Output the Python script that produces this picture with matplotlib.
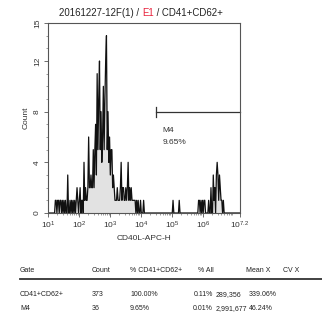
import numpy as np
import matplotlib
matplotlib.use("Agg")
import matplotlib.pyplot as plt
from matplotlib.ticker import FixedLocator, FixedFormatter, LogLocator, NullFormatter, MultipleLocator

plt.rcParams["font.family"] = ["Liberation Sans", "DejaVu Sans"]
plt.rcParams["mathtext.default"] = "regular"

# Histogram channels: 0.025-decade wide, spanning 10^1 .. 10^7.2
LOG_MIN, LOG_MAX, CH_WIDTH = 1.0, 7.2, 0.025
n_channels = int(round((LOG_MAX - LOG_MIN) / CH_WIDTH))

# Event counts per channel (channel index -> count), grouped by region
left_tail = {9: 1, 10: 1, 12: 1, 13: 1, 15: 1, 16: 1, 18: 1, 20: 1, 22: 1, 25: 3,
             28: 1, 30: 1, 32: 1, 34: 1, 36: 1, 37: 2, 38: 1, 40: 1, 41: 2,
             43: 1, 44: 1, 46: 4, 47: 1, 48: 2, 49: 1, 50: 1, 51: 2, 52: 6,
             53: 2, 54: 2, 55: 3, 56: 2}
main_peak = {57: 2, 58: 5, 59: 2, 60: 5, 61: 7, 62: 3, 63: 11, 64: 5, 65: 9,
             66: 12, 67: 5, 68: 8, 69: 4, 70: 6, 71: 10, 72: 5, 73: 9,
             74: 12, 75: 14, 76: 5, 77: 8, 78: 4, 79: 6, 80: 3, 81: 5,
             82: 5, 83: 2, 84: 3}
right_tail = {85: 2, 86: 1, 87: 1, 88: 1, 89: 2, 90: 1, 91: 1, 92: 1, 93: 2,
              94: 4, 95: 1, 96: 2, 97: 2, 98: 1, 99: 1, 100: 2, 101: 1,
              102: 2, 103: 4, 104: 1, 105: 2, 106: 1, 107: 2, 108: 1, 109: 1,
              110: 1, 111: 1, 112: 1, 114: 1, 116: 1, 119: 1, 123: 1}
high_cluster = {161: 1, 169: 1, 194: 1, 195: 1, 197: 1, 199: 1, 201: 1, 202: 1,
                207: 1, 210: 2, 213: 3, 214: 1, 215: 2, 217: 3, 218: 4, 219: 3,
                220: 1, 221: 3, 222: 2, 223: 1, 224: 1, 226: 1}

# Marker gate M4
gate_name = "M4"
gate_log_start = 4.49
gate_level = 8
gate_pct = "9.65%"

title_parts = [("20161227-12F(1) / ", "#222222"), ("E1", "#e8203a"), (" / CD41+CD62+", "#222222")]
x_label = "CD40L-APC-H"
y_label = "Count"
x_tick_exps = [1, 2, 3, 4, 5, 6, 7.2]
x_tick_labels = ["$10^{1}$", "$10^{2}$", "$10^{3}$", "$10^{4}$", "$10^{5}$", "$10^{6}$", "$10^{7.2}$"]
y_ticks = [0, 4, 8, 12, 15]

table_header = ["Gate", "Count", "% CD41+CD62+", "% All", "Mean X", "CV X"]
table_rows = [
    ["CD41+CD62+", "373", "100.00%", "0.11%", "289,356", "339.06%"],
    ["M4", "36", "9.65%", "0.01%", "2,991,677", "46.24%"],
]

counts = np.zeros(n_channels)
for region in (left_tail, main_peak, right_tail, high_cluster):
    for ch, c in region.items():
        counts[ch] = c
centers = 10 ** (LOG_MIN + CH_WIDTH * (np.arange(n_channels) + 0.5))

fig = plt.figure(figsize=(3.22, 3.26), dpi=100)
ax = fig.add_axes([48 / 322, 1 - 213 / 326, 192 / 322, 190 / 326])

ax.fill_between(centers, 0, counts, color="#e2e2e2", linewidth=0)
ax.plot(centers, counts, color="#111111", linewidth=0.9)

ax.set_xscale("log")
ax.set_xlim(10 ** LOG_MIN, 10 ** LOG_MAX)
ax.set_ylim(0, 15)

ax.xaxis.set_major_locator(FixedLocator([10 ** e for e in x_tick_exps]))
ax.xaxis.set_major_formatter(FixedFormatter(x_tick_labels))
ax.xaxis.set_minor_locator(LogLocator(base=10, subs=np.arange(2, 10), numticks=20))
ax.xaxis.set_minor_formatter(NullFormatter())
ax.set_yticks(y_ticks)
ax.yaxis.set_minor_locator(MultipleLocator(1))

for lab in ax.get_yticklabels():
    lab.set_rotation(90)
    lab.set_va("center")
ax.tick_params(axis="both", which="major", labelsize=6, length=3, width=0.6,
               color="#555555", labelcolor="#333333", pad=2)
ax.tick_params(axis="both", which="minor", length=1.5, width=0.5, color="#777777")
for sp in ax.spines.values():
    sp.set_color("#555555")
    sp.set_linewidth(0.8)

ax.set_xlabel(x_label, fontsize=6, color="#333333", labelpad=3)
ax.set_ylabel(y_label, fontsize=6, color="#333333", labelpad=3)

# Gate bar with end caps
g0, g1 = 10 ** gate_log_start, 10 ** LOG_MAX
ax.plot([g0, g1], [gate_level, gate_level], color="#333333", lw=0.9, clip_on=False)
ax.plot([g0, g0], [gate_level - 0.4, gate_level + 0.4], color="#333333", lw=0.9)
ax.text(10 ** (gate_log_start + 0.2), gate_level - 1.5, gate_name, fontsize=6,
        color="#333333", va="center", ha="left")
ax.text(10 ** (gate_log_start + 0.2), gate_level - 2.4, gate_pct, fontsize=6,
        color="#333333", va="center", ha="left")

# Title with coloured segment
renderer = fig.canvas.get_renderer()
pieces = []
for txt, col in title_parts:
    t = fig.text(0, 1 - 13 / 326, txt, fontsize=6.9, color=col, va="center", ha="left")
    pieces.append(t)
widths = [p.get_window_extent(renderer).width for p in pieces]
x = 141 - sum(widths) / 2
for p, w in zip(pieces, widths):
    p.set_x(x / 322)
    x += w

# Statistics table
header_x = [20, 92, 130, 198, 246, 283]
for hx, h in zip(header_x, table_header):
    fig.text(hx / 322, 1 - 271 / 326, h, fontsize=5.0, color="#222222", va="center")
fig.add_artist(plt.Line2D([20 / 322, 1.0], [1 - 279 / 326] * 2, color="#333333", lw=1.3))
# (x position, horizontal alignment) for each body column
body_cols = [(20, "left"), (92, "left"), (130, "left"), (213, "right"), (216, "left"), (249, "left")]
for r, row in enumerate(table_rows):
    y = 1 - (295 + 14 * r) / 326
    for (cx, ha), cell in zip(body_cols, row):
        fig.text(cx / 322, y, cell, fontsize=5.0, color="#222222", va="center", ha=ha)

fig.savefig("out.png", dpi=100)
